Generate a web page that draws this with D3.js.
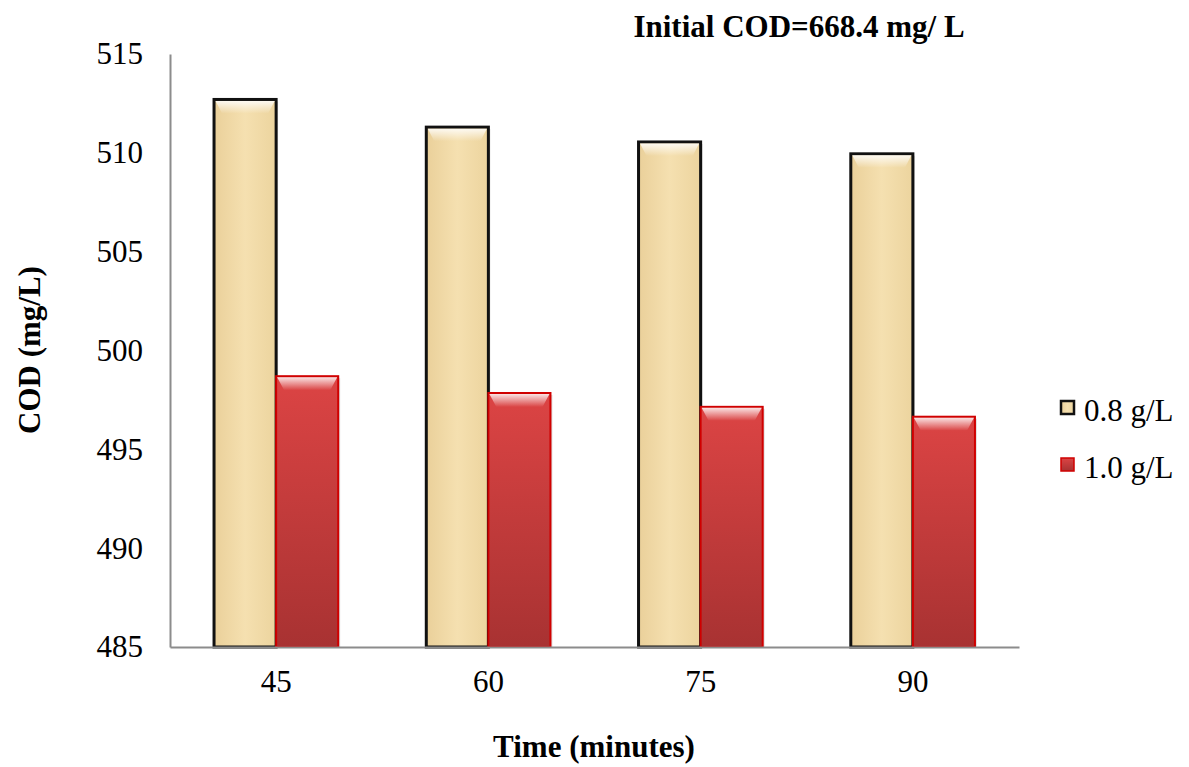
<!DOCTYPE html>
<html><head><meta charset="utf-8">
<script src="https://cdn.jsdelivr.net/npm/d3@7"></script>
<style>body{margin:0;background:#fff;} text{font-family:"Liberation Serif","Times New Roman",serif;}</style>
</head><body>
<svg id="c" width="1189" height="767"></svg>
<script>
const categories = ["45","60","75","90"];
const seriesNames = ["0.8 g/L","1.0 g/L"];
const values08 = [512.7, 511.3, 510.55, 509.95];
const values10 = [498.7, 497.85, 497.15, 496.65];
const yTicks = [485,490,495,500,505,510,515];
const title = "Initial COD=668.4 mg/ L";
const xLabel = "Time (minutes)";
const yLabel = "COD (mg/L)";

const svg = d3.select("#c");
const m = {l:170, r:1019, t:54, b:647};
const x = d3.scaleBand().domain(categories).range([m.l, m.r]).paddingInner(0.415).paddingOuter(0.2075);
const y = d3.scaleLinear().domain([485,515]).range([m.b, m.t]);
const sub = d3.scaleBand().domain([0,1]).range([0, x.bandwidth()]);

const defs = svg.append("defs");
const gT = defs.append("linearGradient").attr("id","tan").attr("x1",0).attr("y1",0).attr("x2",1).attr("y2",0);
gT.append("stop").attr("offset","0%").attr("stop-color","#ead09a");
gT.append("stop").attr("offset","50%").attr("stop-color","#f5e0b0");
gT.append("stop").attr("offset","100%").attr("stop-color","#ecd49e");
const gR = defs.append("linearGradient").attr("id","red").attr("x1",0).attr("y1",0).attr("x2",0).attr("y2",1);
gR.append("stop").attr("offset","0%").attr("stop-color","#dc4444");
gR.append("stop").attr("offset","100%").attr("stop-color","#a83232");
const gH = defs.append("linearGradient").attr("id","hl").attr("x1",0).attr("y1",0).attr("x2",0).attr("y2",1);
gH.append("stop").attr("offset","0%").attr("stop-color","#fff").attr("stop-opacity",0.85);
gH.append("stop").attr("offset","100%").attr("stop-color","#fff").attr("stop-opacity",0);

// axes
const yAxis = d3.axisLeft(y).tickValues(yTicks).tickSize(0).tickPadding(27);
const ya = svg.append("g").attr("transform",`translate(${m.l},0)`).call(yAxis);
ya.select(".domain").attr("stroke","#8c8c8c").attr("stroke-width",2);
ya.selectAll("text").attr("font-size",31).attr("fill","#000").attr("font-family","Liberation Serif");

const series = [
  {vals: values08, fill:"url(#tan)", stroke:"#111", sw:3},
  {vals: values10, fill:"url(#red)", stroke:"#d00000", sw:2}
];
series.forEach((s,i)=>{
  const g = svg.append("g");
  categories.forEach((c,j)=>{
    const x0 = x(c)+sub(i), w = sub.bandwidth(), yt = y(s.vals[j]), h = y(485)-yt;
    g.append("rect").attr("x",x0+2).attr("y",yt+2).attr("width",w).attr("height",h-2).attr("fill","#000").attr("opacity",0.12);
    g.append("rect").attr("x",x0).attr("y",yt).attr("width",w).attr("height",h).attr("fill",s.fill).attr("stroke",s.stroke).attr("stroke-width",s.sw);
    g.append("path").attr("d",`M${x0+s.sw/2},${yt+s.sw/2} L${x0+w-s.sw/2},${yt+s.sw/2} L${x0+w-8},${yt+14} L${x0+8},${yt+14} Z`).attr("fill","url(#hl)");
  });
});

const xAxis = d3.axisBottom(x).tickSize(0).tickPadding(23);
const xa = svg.append("g").attr("transform",`translate(0,${m.b})`).call(xAxis);
xa.select(".domain").attr("stroke","#8c8c8c").attr("stroke-width",2);
xa.selectAll("text").attr("font-size",31).attr("fill","#000").attr("font-family","Liberation Serif");

svg.append("text").attr("x",799).attr("y",37).attr("text-anchor","middle").attr("font-size",31).attr("font-weight","bold").text(title);
svg.append("text").attr("x",594).attr("y",757).attr("text-anchor","middle").attr("font-size",31).attr("font-weight","bold").text(xLabel);
svg.append("text").attr("transform","translate(40,350) rotate(-90)").attr("text-anchor","middle").attr("font-size",31).attr("font-weight","bold").text(yLabel);

// legend
const leg = svg.append("g");
seriesNames.forEach((n,i)=>{
  const ly = 401 + i*57;
  leg.append("rect").attr("x",1061).attr("y",ly).attr("width",13).attr("height",13).attr("fill",series[i].fill).attr("stroke",series[i].stroke).attr("stroke-width",i===0?2.5:1.5);
  leg.append("text").attr("x",1084).attr("y",ly+20).attr("font-size",31).text(n);
});
</script>
</body></html>
